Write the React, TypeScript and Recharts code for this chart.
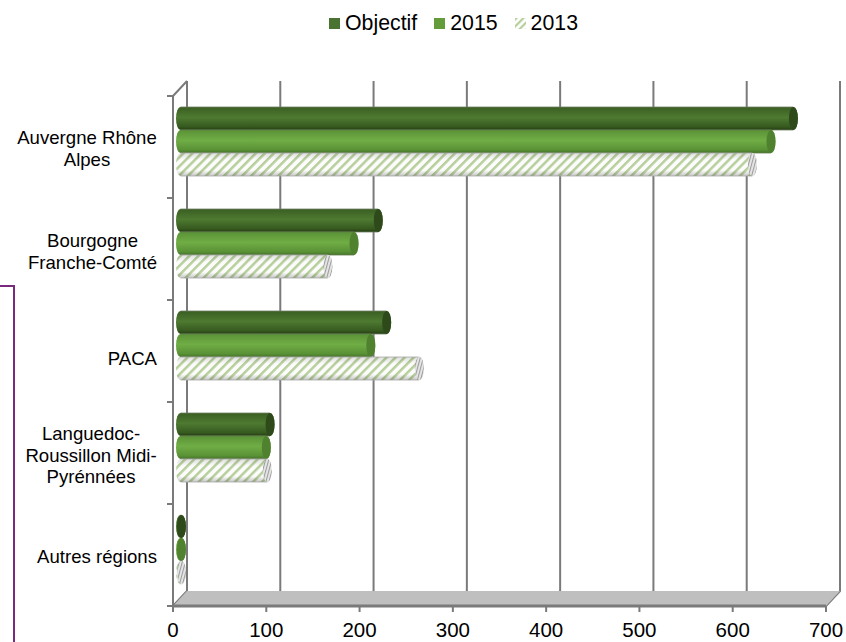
import React from "react";
import { BarChart, Bar, XAxis, YAxis, CartesianGrid, Legend, ReferenceArea } from "recharts";

const categories = ["Auvergne Rhône Alpes", "Bourgogne Franche-Comté", "PACA", "Languedoc-Roussillon Midi-Pyrénnées", "Autres régions"];
const tickLines: string[][] = [["Auvergne Rhône", "Alpes"], ["Bourgogne", "Franche-Comté"], ["PACA"], ["Languedoc-", "Roussillon Midi-", "Pyrénnées"], ["Autres régions"]];
const objectif = [657, 212, 221, 96, 1];
const v2015 = [633, 186, 204, 92, 1];
const v2013 = [613, 158, 256, 93, 1];
const xTicks = [0, 100, 200, 300, 400, 500, 600, 700];

const data = categories.map((name, i) => ({ name, objectif: objectif[i], v2015: v2015[i], v2013: v2013[i] }));

const AXIS = "#7a7a7a";
const DX = 14;
const DY = 15;
const LABEL_FIRST_BASELINE = [-3, -2, 14, -13, 8];
const LABEL_CENTER_X = [87, 92.5, 157, 91, 157];

const makeCylinder = (fill: string, cap: string, edge: string, shade?: string) => (p: any) => {
  const rx = 4.5;
  const x0 = p.x + 7.5;
  const x1 = x0 + Math.max(p.width, 0);
  const y = p.y - 6;
  const h = p.height;
  const ry = h / 2;
  const d = `M${x0} ${y} L${x1} ${y} A${rx} ${ry} 0 0 1 ${x1} ${y + h} L${x0} ${y + h} A${rx} ${ry} 0 0 1 ${x0} ${y} Z`;
  const sides = `M${x0} ${y} L${x1} ${y} M${x0} ${y + h} L${x1} ${y + h}`;
  return (
    <g>
      <path d={d} fill={fill} />
      {shade && <path d={d} fill={shade} />}
      <path d={sides} fill="none" stroke={edge} strokeWidth={0.8} />
      <ellipse cx={x1} cy={y + h / 2} rx={rx} ry={ry} fill={cap} />
    </g>
  );
};

const GridLine = (p: any) => (
  <path
    d={`M${p.x1 + DX} ${p.y1 - DY} L${p.x1 + DX} ${p.y2 - DY} L${p.x1} ${p.y2}`}
    fill="none"
    stroke={AXIS}
    strokeWidth={2}
  />
);

const Floor = (p: any) => (
  <polygon
    points={`${p.x},${p.y + p.height} ${p.x + DX},${p.y + p.height - DY} ${p.x + p.width + DX},${p.y + p.height - DY} ${p.x + p.width},${p.y + p.height}`}
    fill="#bfbfbf"
  />
);

const CategoryTick = (p: any) => {
  const lines = tickLines[p.index] ?? [String(p.payload.value)];
  const lh = 21.5;
  const axisX = p.x + 8;
  return (
    <g>
      <line x1={axisX - 6} x2={axisX} y1={p.y - 51} y2={p.y - 51} stroke={AXIS} strokeWidth={2} />
      {p.index === tickLines.length - 1 && (
        <line x1={axisX - 6} x2={axisX} y1={p.y + 51} y2={p.y + 51} stroke={AXIS} strokeWidth={2} />
      )}
      {p.index === 0 && (
        <line x1={axisX} x2={axisX + DX} y1={p.y - 51} y2={p.y - 51 - DY} stroke={AXIS} strokeWidth={2} />
      )}
      <text
        textAnchor={lines.length > 1 ? "middle" : "end"}
        fontSize={18.6}
        fill="#000"
        fontFamily="Liberation Sans"
      >
        {lines.map((l, i) => (
          <tspan key={l} x={LABEL_CENTER_X[p.index]} y={p.y + LABEL_FIRST_BASELINE[p.index] + i * lh}>
            {l}
          </tspan>
        ))}
      </text>
    </g>
  );
};

const legendItems = [
  { label: "Objectif", color: "#4a7230" },
  { label: "2015", color: "#649c3c" },
  { label: "2013", color: "url(#hatchLegend)" },
];

const LegendContent = () => (
  <div style={{ display: "flex", fontFamily: "Liberation Sans", fontSize: 21.3, color: "#000", lineHeight: "24px" }}>
    {legendItems.map((it) => (
      <div key={it.label} style={{ display: "flex", alignItems: "center", marginRight: 17 }}>
        <svg width={11} height={11} style={{ marginRight: 5 }}>
          <defs>
            <pattern id="hatchLegend" width="5" height="5" patternUnits="userSpaceOnUse" patternTransform="rotate(45)">
              <rect width="5" height="5" fill="#ffffff" />
              <rect width="2.2" height="5" fill="#b7cf9b" />
            </pattern>
          </defs>
          <rect width={11} height={11} fill={it.color} />
        </svg>
        <span>{it.label}</span>
      </div>
    ))}
  </div>
);

export default function App() {
  return (
    <div style={{ position: "absolute", left: 0, top: 0, width: 846, height: 642, overflow: "hidden" }}>
      <div
        style={{
          position: "absolute",
          left: -2,
          top: 285,
          width: 15,
          height: 357,
          borderTop: "2px solid #7a2a7c",
          borderRight: "2px solid #7a2a7c",
          boxSizing: "content-box",
        }}
      />
      <BarChart
        width={846}
        height={642}
        data={data}
        layout="vertical"
        barSize={23}
        barGap={0}
        margin={{ top: 96, right: 20, bottom: 0, left: 0 }}
        style={{ position: "absolute", left: 0, top: 0 }}
      >
        <defs>
          <linearGradient id="gObj" x1="0" y1="0" x2="0" y2="1">
            <stop offset="0" stopColor="#3a5e22" />
            <stop offset="0.45" stopColor="#4e7a31" />
            <stop offset="0.85" stopColor="#375a20" />
            <stop offset="1" stopColor="#243f12" />
          </linearGradient>
          <linearGradient id="g15" x1="0" y1="0" x2="0" y2="1">
            <stop offset="0" stopColor="#5a9236" />
            <stop offset="0.45" stopColor="#70ad45" />
            <stop offset="0.85" stopColor="#5a9236" />
            <stop offset="1" stopColor="#47752b" />
          </linearGradient>
          <linearGradient id="g13" x1="0" y1="0" x2="0" y2="1">
            <stop offset="0" stopColor="#000" stopOpacity="0.12" />
            <stop offset="0.3" stopColor="#000" stopOpacity="0" />
            <stop offset="0.75" stopColor="#000" stopOpacity="0" />
            <stop offset="1" stopColor="#000" stopOpacity="0.22" />
          </linearGradient>
          <pattern id="hatch" width="6.4" height="6.4" patternUnits="userSpaceOnUse" patternTransform="rotate(45)">
            <rect width="6.4" height="6.4" fill="#fcfcfc" />
            <rect width="2.5" height="6.4" fill="#b7cf9b" />
          </pattern>
          <pattern id="hatchGrey" width="3" height="3" patternUnits="userSpaceOnUse" patternTransform="rotate(15)">
            <rect width="3" height="3" fill="#e8e8e8" />
            <rect width="1.1" height="3" fill="#9c9c9c" />
          </pattern>
        </defs>
        <ReferenceArea x1={0} x2={700} fill="#bfbfbf" shape={Floor} ifOverflow="extendDomain" />
        <CartesianGrid horizontal={false} vertical={GridLine as any} syncWithTicks />
        <XAxis
          type="number"
          domain={[0, 700]}
          ticks={xTicks}
          height={36}
          axisLine={{ stroke: AXIS, strokeWidth: 3 }}
          tickLine={{ stroke: AXIS, strokeWidth: 2 }}
          tickSize={6}
          tickMargin={10}
          interval={0}
          tick={{ fontSize: 20.5, fill: "#000", fontFamily: "Liberation Sans" }}
        />
        <YAxis
          type="category"
          dataKey="name"
          width={173}
          axisLine={{ stroke: AXIS, strokeWidth: 2 }}
          tickLine={false}
          interval={0}
          tick={CategoryTick as any}
        />
        <Legend
          layout="horizontal"
          verticalAlign="middle"
          content={LegendContent as any}
          wrapperStyle={{ position: "absolute", left: 329, top: 11, width: "auto" }}
        />
        <Bar dataKey="objectif" isAnimationActive={false} shape={makeCylinder("url(#gObj)", "#2e4a1a", "#6f7f62")} />
        <Bar dataKey="v2015" isAnimationActive={false} shape={makeCylinder("url(#g15)", "#4f812f", "#5f7f4c")} />
        <Bar dataKey="v2013" isAnimationActive={false} shape={makeCylinder("url(#hatch)", "url(#hatchGrey)", "#a8a8a8", "url(#g13)")} />
      </BarChart>
    </div>
  );
}
